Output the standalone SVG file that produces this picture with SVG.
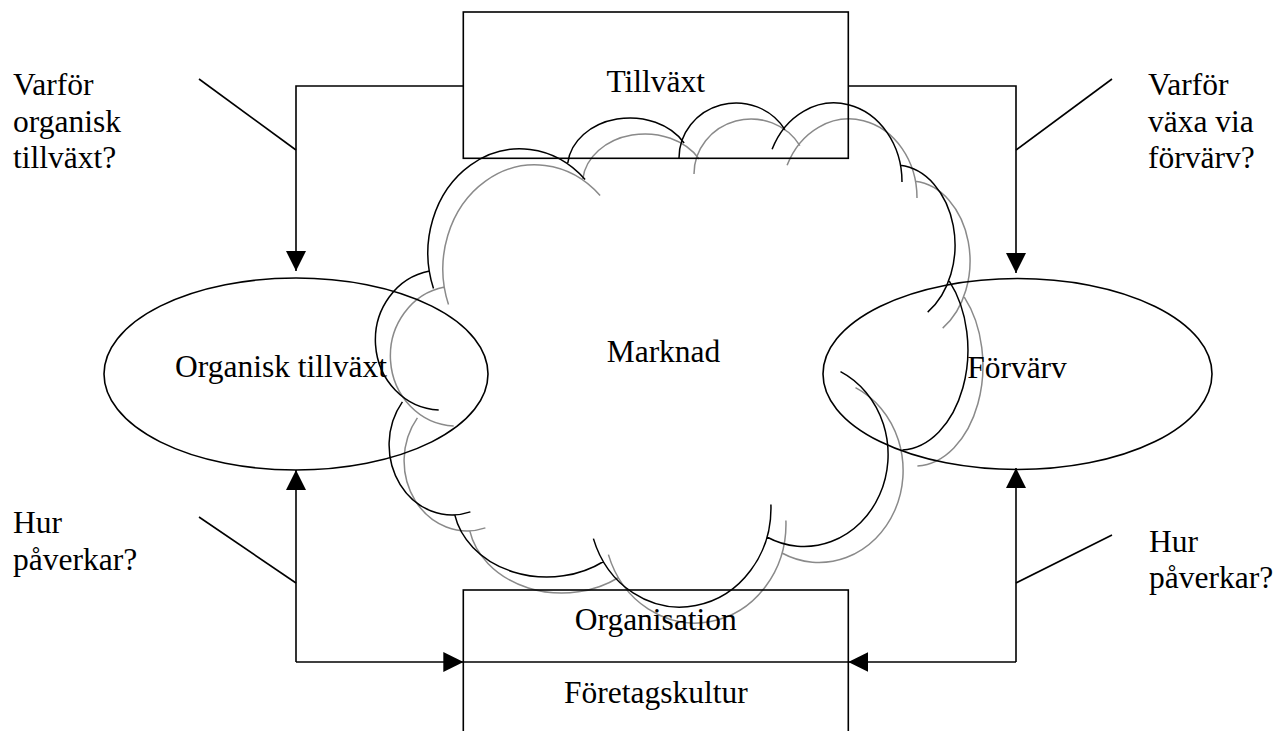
<svg xmlns="http://www.w3.org/2000/svg" xmlns:xlink="http://www.w3.org/1999/xlink" width="1278" height="731" viewBox="0 0 1278 731">
<style>
text{font-family:"Liberation Serif","Times New Roman",serif;font-size:31.5px;fill:#000}
.mid{text-anchor:middle}
.ln{fill:none;stroke:#000;stroke-width:1.6}
.cl{fill:none;stroke:#000;stroke-width:1.5}
.sh{fill:none;stroke:#8a8a8a;stroke-width:1.5}
</style>
<defs>
<marker id="ah" markerUnits="userSpaceOnUse" markerWidth="20" markerHeight="20" refX="20" refY="10" orient="auto">
<path d="M0,0 L20,10 L0,20 Z" fill="#000"/>
</marker>
<path id="cloudpath" d="M433.5,288.6 A92,104 0 0 1 585.1,179.5 M567.8,162.8 A62.5,50 0 0 1 684.1,143 M679,158 A57,55 0 0 1 784.9,129.7 M772.1,149.2 A68,79 0 0 1 902,182 M900.2,165.3 A60,80 0 0 1 927.7,312.1 M949.3,281.2 A68,100 0 0 1 902.4,449.9 M840.5,371.6 A84,92 0 1 1 766.9,537 M770.9,504.5 A91,99 0 0 1 593.4,538.6 M603.6,561.5 A94,77 0 0 1 454.7,514.7 M470.4,511.9 A63,70 0 0 1 402.4,401.9 M438.7,409.9 A66,70 0 0 1 429.5,271.1"/>
</defs>
<rect width="1278" height="731" fill="#fff"/>

<g id="marknad">
<use xlink:href="#cloudpath" href="#cloudpath" class="sh" transform="translate(15,16)"/>
<use xlink:href="#cloudpath" href="#cloudpath" class="cl"/>
<text x="663.5" y="362" class="mid">Marknad</text>
</g>

<g id="tillvaxt">
<rect x="463.3" y="12" width="385" height="146.3" class="ln"/>
<text x="655.8" y="92" class="mid">Tillväxt</text>
</g>

<g id="organisk">
<ellipse cx="296" cy="374" rx="192" ry="96" class="ln"/>
<text x="175" y="377">Organisk tillväxt</text>
</g>

<g id="forvarv">
<ellipse cx="1017.5" cy="374" rx="194.5" ry="95.5" class="ln"/>
<text x="1017" y="378" class="mid">Förvärv</text>
</g>

<g id="organisation">
<rect x="463.3" y="590" width="385" height="170" class="ln"/>
<text x="655.8" y="630" class="mid">Organisation</text>
<text x="655.8" y="703" class="mid">Företagskultur</text>
</g>

<g id="labels">
<text x="13" y="95">Varför</text>
<text x="13" y="131.7">organisk</text>
<text x="13" y="168.3">tillväxt?</text>
<text x="1148" y="95">Varför</text>
<text x="1148" y="131.7">växa via</text>
<text x="1148" y="168.3">förvärv?</text>
<text x="13" y="533">Hur</text>
<text x="13" y="570">påverkar?</text>
<text x="1149" y="552">Hur</text>
<text x="1149" y="588.3">påverkar?</text>
</g>

<g id="connectors">
<path d="M463.3,86 H296 V271" class="ln" marker-end="url(#ah)"/>
<path d="M848.3,86 H1016 V273" class="ln" marker-end="url(#ah)"/>
<path d="M296,662 V470" class="ln" marker-end="url(#ah)"/>
<path d="M1016,662 V468" class="ln" marker-end="url(#ah)"/>
<path d="M296,662 H463.3" class="ln" marker-end="url(#ah)"/>
<path d="M1016,662 H848.3" class="ln" marker-end="url(#ah)"/>
<path d="M463.3,662 H848.3" class="ln"/>
<path d="M199,79 L296,150" class="ln"/>
<path d="M199,517 L296,583" class="ln"/>
<path d="M1112,79 L1016,150" class="ln"/>
<path d="M1112,535 L1016,583" class="ln"/>
</g>
</svg>
